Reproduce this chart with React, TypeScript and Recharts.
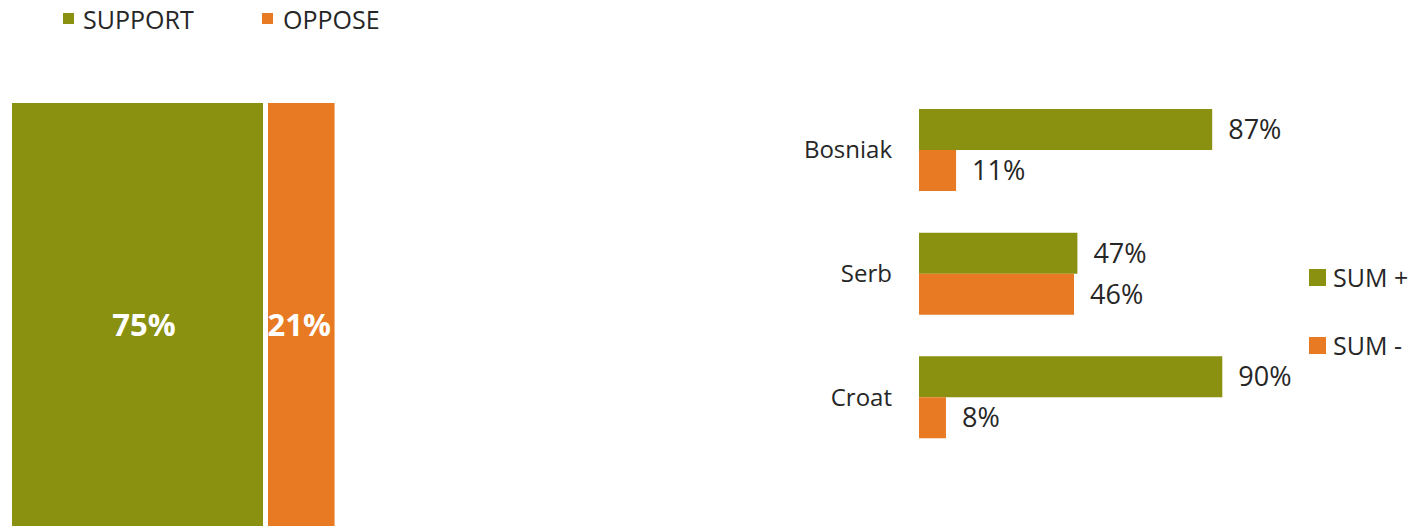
import React from 'react';
import { BarChart, Bar, XAxis, YAxis, Legend, LabelList } from 'recharts';

const overallCategories = ['All'];
const supportValues = [75];
const opposeValues = [21];

const groupCategories = ['Bosniak', 'Serb', 'Croat'];
const sumPlusValues = [87, 47, 90];
const sumMinusValues = [11, 46, 8];

const GREEN = '#8A9110';
const ORANGE = '#E87A23';
const TEXT = '#262626';
const FONT = '"Open Sans", "Noto Sans", sans-serif';

const overallData = overallCategories.map((name, i) => ({
  name,
  support: supportValues[i],
  oppose: opposeValues[i],
}));

const groupData = groupCategories.map((name, i) => ({
  name,
  plus: sumPlusValues[i],
  minus: sumMinusValues[i],
}));

const pct = (v: any) => `${v}%`;

const SupportShape = (props: any) => (
  <rect x={props.x} y={props.y} width={Math.max(0, props.width - 1)} height={props.height} fill={GREEN} />
);
const OpposeShape = (props: any) => (
  <rect x={props.x + 4} y={props.y} width={Math.max(0, props.width - 4)} height={props.height} fill={ORANGE} />
);

const TopLegend = () => (
  <div style={{ position: 'relative', width: 400, height: 40, fontFamily: FONT }}>
    <div style={{ position: 'absolute', left: 63, top: 13, width: 11, height: 11, background: GREEN }} />
    <div style={{ position: 'absolute', left: 83, top: 2, fontSize: 25, lineHeight: '34px', color: TEXT, whiteSpace: 'nowrap' }}>SUPPORT</div>
    <div style={{ position: 'absolute', left: 262, top: 13, width: 11, height: 11, background: ORANGE }} />
    <div style={{ position: 'absolute', left: 283, top: 2, fontSize: 25, lineHeight: '34px', color: TEXT, whiteSpace: 'nowrap' }}>OPPOSE</div>
  </div>
);

const SideLegend = () => (
  <div style={{ position: 'relative', width: 90, height: 100, fontFamily: FONT }}>
    <div style={{ position: 'absolute', left: 0, top: 7, width: 17, height: 17, background: GREEN }} />
    <div style={{ position: 'absolute', left: 24, top: -2, fontSize: 25, lineHeight: '34px', color: TEXT, whiteSpace: 'nowrap' }}>SUM +</div>
    <div style={{ position: 'absolute', left: 0, top: 75, width: 17, height: 17, background: ORANGE }} />
    <div style={{ position: 'absolute', left: 24, top: 66, fontSize: 25, lineHeight: '34px', color: TEXT, whiteSpace: 'nowrap' }}>SUM -</div>
  </div>
);

const CategoryTick = (props: any) => (
  <text x={props.x} y={props.y} dy="0.36em" textAnchor="end" fill={TEXT} fontSize={24} fontFamily={FONT}>
    {props.payload.value}
  </text>
);

export default function App() {
  return (
    <div style={{ position: 'absolute', left: 0, top: 0, width: 1412, height: 526, overflow: 'hidden', background: '#fff' }}>
      <div style={{ position: 'absolute', left: 0, top: 0 }}>
        <BarChart
          width={400}
          height={547}
          layout="vertical"
          data={overallData}
          margin={{ top: 63, right: 52, bottom: 0, left: 12 }}
          barCategoryGap={0}
        >
          <XAxis type="number" domain={[0, 100]} hide />
          <YAxis type="category" dataKey="name" hide />
          <Legend
            verticalAlign="top"
            align="left"
            layout="horizontal"
            content={() => <TopLegend />}
            wrapperStyle={{ left: 0, top: 0, width: 400, height: 40 }}
          />
          <Bar dataKey="support" stackId="a" fill={GREEN} shape={SupportShape} isAnimationActive={false}>
            <LabelList dataKey="support" position="center" dx={6} formatter={pct} fill="#fff" fontSize={31} fontWeight={700} fontFamily={FONT} />
          </Bar>
          <Bar dataKey="oppose" stackId="a" fill={ORANGE} shape={OpposeShape} isAnimationActive={false}>
            <LabelList dataKey="oppose" position="center" formatter={pct} fill="#fff" fontSize={31} fontWeight={700} fontFamily={FONT} />
          </Bar>
        </BarChart>
      </div>
      <div style={{ position: 'absolute', left: 780, top: 0 }}>
        <BarChart
          width={632}
          height={526}
          layout="vertical"
          data={groupData}
          margin={{ top: 88, right: 66, bottom: 67, left: 0 }}
          barGap={0}
          barSize={41}
        >
          <XAxis type="number" domain={[0, 100]} hide />
          <YAxis
            type="category"
            dataKey="name"
            width={139}
            axisLine={false}
            tickLine={false}
            tickSize={0}
            tickMargin={27}
            tick={<CategoryTick />}
          />
          <Legend
            verticalAlign="middle"
            align="right"
            layout="vertical"
            content={() => <SideLegend />}
            wrapperStyle={{ left: 529, top: 262, right: 'auto', width: 90, height: 100 }}
          />
          <Bar dataKey="plus" fill={GREEN} isAnimationActive={false}>
            <LabelList dataKey="plus" position="right" offset={16} formatter={pct} fill={TEXT} fontSize={27} fontFamily={FONT} />
          </Bar>
          <Bar dataKey="minus" fill={ORANGE} isAnimationActive={false}>
            <LabelList dataKey="minus" position="right" offset={16} formatter={pct} fill={TEXT} fontSize={27} fontFamily={FONT} />
          </Bar>
        </BarChart>
      </div>
    </div>
  );
}
